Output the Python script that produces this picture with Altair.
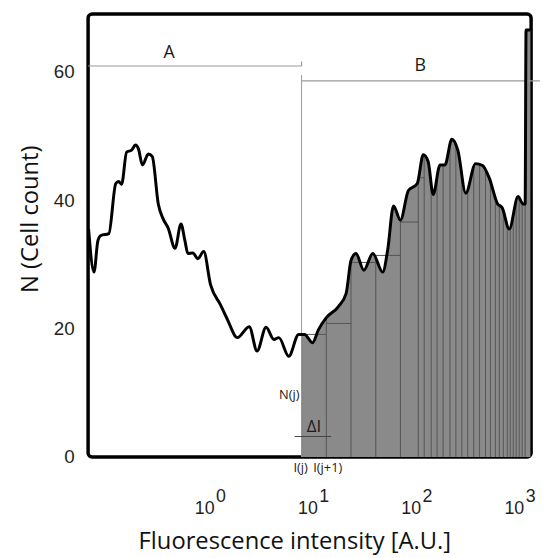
import altair as alt
import pandas as pd

# ---- data (x in log10 of fluorescence intensity) ----
log_intensity = [-1.12, -1.068, -1.030, -1.001, -0.924, -0.857, -0.829, -0.800, -0.752, -0.704,
                 -0.666, -0.637, -0.599, -0.541, -0.503, -0.445, -0.398, -0.350, -0.283, -0.225,
                 -0.187, -0.158, -0.110, -0.062, -0.005, 0.062, 0.158, 0.225, 0.321, 0.436,
                 0.512, 0.599, 0.675, 0.723, 0.819, 0.915, 0.943, 0.972, 1.049, 1.106,
                 1.183, 1.298, 1.375, 1.422, 1.470, 1.547, 1.633, 1.729, 1.777, 1.834,
                 1.901, 1.978, 2.064, 2.122, 2.170, 2.218, 2.285, 2.332, 2.399, 2.457,
                 2.534, 2.629, 2.696, 2.763, 2.840, 2.888, 2.955, 3.041, 3.089, 3.109,
                 3.118, 3.160]
cell_count = [35.5, 28.8, 33.7, 34.5, 34.8, 42.6, 42.9, 42.5, 47.5, 47.8,
              48.6, 48.0, 45.5, 47.2, 46.8, 39.4, 37.1, 35.7, 32.5, 36.3,
              33.7, 31.7, 31.8, 30.9, 32.0, 26.8, 23.7, 21.4, 18.6, 20.3,
              16.5, 20.2, 18.3, 18.6, 15.7, 19.1, 19.1, 19.1, 17.8, 19.8,
              21.7, 23.4, 25.5, 30.6, 31.7, 29.1, 31.7, 28.8, 32.2, 39.1,
              36.9, 41.5, 42.6, 47.1, 46.0, 40.9, 45.5, 45.5, 49.5, 47.8,
              41.1, 45.7, 45.4, 43.4, 39.5, 38.8, 35.5, 40.6, 39.4, 39.4,
              66.5, 66.5]

gate = 0.943  # boundary between region A and region B

bin_edges = [0.943, 1.183, 1.422, 1.662, 1.901, 2.074, 2.131, 2.199, 2.256, 2.314,
             2.381, 2.438, 2.496, 2.553, 2.611, 2.668, 2.725, 2.773, 2.821, 2.859,
             2.898, 2.936, 2.965, 2.994, 3.022, 3.051, 3.080, 3.109]
bin_tops = [19.1, 21.7, 30.6, 31.2, 36.9, 43.4, 47.0, 42.9, 43.5, 45.5,
            48.3, 48.5, 44.5, 42.0, 44.8, 45.7, 44.8, 42.9, 40.5, 39.2,
            38.3, 36.5, 36.0, 37.7, 39.5, 40.5, 39.7, 39.4]

step_start = [0.943, 1.183, 1.422, 1.662, 1.901, 2.074]
step_end = [1.183, 1.422, 1.662, 1.901, 2.074, 2.131]
step_level = [19.1, 20.8, 30.3, 31.4, 36.6, 43.5]

x_ticks = [0, 1, 2, 3]
x_exponents = ["0", "1", "2", "3"]
y_ticks = [0, 20, 40, 60]
x_domain = [-1.125, 3.167]
y_domain = [0, 69]

# ---- tables ----
curve = pd.DataFrame({"logI": log_intensity, "N": cell_count})
region_b = curve[curve["logI"] >= gate]
bins = pd.DataFrame({"logI": bin_edges, "top": bin_tops, "base": [0] * len(bin_edges)})
steps = pd.DataFrame({"logI": step_start, "end": step_end, "N": step_level})

xaxis = alt.Axis(values=x_ticks, labelExpr="'10'",
                 labelFont="Liberation Sans", labelFontSize=18, labelColor="#1f1f1f",
                 labelAlign="center", labelBaseline="top",
                 labelPadding=43, labelFlush=False, ticks=False, domain=False, grid=False,
                 title="Fluorescence intensity [A.U.]", titleFont="Open Sans",
                 titleFontSize=24, titleFontWeight="normal", titleColor="#111",
                 titleX=208.5, titleY=92, titleBaseline="alphabetic", titleAlign="center")
yaxis = alt.Axis(values=y_ticks, labelFont="Liberation Sans", labelFontSize=19,
                 labelColor="#1f1f1f", labelPadding=14, ticks=False, domain=False, grid=False,
                 title="N (Cell count)", titleFont="Open Sans", titleFontSize=24,
                 titleFontWeight="normal", titleColor="#111", titleX=-51, titleY=207,
                 titleAngle=270, titleBaseline="alphabetic", titleAlign="center")
xs = alt.Scale(domain=x_domain, nice=False, zero=False)
ys = alt.Scale(domain=y_domain, nice=False, zero=False)


def X(f):
    return alt.X(f, type="quantitative", scale=xs, axis=xaxis)


def Y(f):
    return alt.Y(f, type="quantitative", scale=ys, axis=yaxis)


fill = alt.Chart(region_b).mark_area(color="#8a8a8a", interpolate="monotone", opacity=1).encode(
    x=X("logI"), y=Y("N"))

bin_rules = alt.Chart(bins).mark_rule(color="#555555", strokeWidth=1).encode(
    x=X("logI"), y=Y("base"), y2="top")

step_rules = alt.Chart(steps).mark_rule(color="#555555", strokeWidth=1).encode(
    x=X("logI"), x2="end", y=Y("N"))

# brackets / gate annotation
gate_df = pd.DataFrame({"logI": [gate], "y0": [0], "y1": [59.5]})
gate_rule = alt.Chart(gate_df).mark_rule(color="#9a9a9a", strokeWidth=1).encode(
    x=X("logI"), y=Y("y0"), y2="y1")

a_df = pd.DataFrame({"logI": [x_domain[0]], "end": [gate], "N": [60.9]})
a_rule = alt.Chart(a_df).mark_rule(color="#9a9a9a", strokeWidth=1.2).encode(
    x=X("logI"), x2="end", y=Y("N"))
a_tick_df = pd.DataFrame({"logI": [gate], "y0": [60.9], "y1": [61.6]})
a_tick = alt.Chart(a_tick_df).mark_rule(color="#9a9a9a", strokeWidth=1.2).encode(
    x=X("logI"), y=Y("y0"), y2="y1")
b_df = pd.DataFrame({"logI": [gate], "end": [3.252], "N": [58.6]})
b_rule = alt.Chart(b_df).mark_rule(color="#9a9a9a", strokeWidth=1.2).encode(
    x=X("logI"), x2="end", y=Y("N"))

di_df = pd.DataFrame({"logI": [0.876], "end": [1.231], "N": [3.2]})
di_rule = alt.Chart(di_df).mark_rule(color="#444444", strokeWidth=1).encode(
    x=X("logI"), x2="end", y=Y("N"))

line = alt.Chart(curve).mark_line(color="black", strokeWidth=3, interpolate="monotone").encode(
    x=X("logI"), y=Y("N"))

big_labels = pd.DataFrame({"logI": [-0.340, 2.093], "N": [62.9, 60.9], "t": ["A", "B"]})
big_text = alt.Chart(big_labels).mark_text(font="Open Sans", fontSize=18, color="#1a1a1a",
                                           baseline="middle", align="center").encode(
    x=X("logI"), y=Y("N"), text="t:N")

dl_df = pd.DataFrame({"logI": [1.063], "N": [4.6], "t": ["ΔI"]})
dl_text = alt.Chart(dl_df).mark_text(font="Open Sans", fontSize=17, color="#1a1a1a",
                                     baseline="middle", align="center").encode(
    x=X("logI"), y=Y("N"), text="t:N")

nj_df = pd.DataFrame({"logI": [0.924], "N": [9.7], "t": ["N(j)"]})
nj_text = alt.Chart(nj_df).mark_text(font="Open Sans", fontSize=13, color="#1a1a1a",
                                     baseline="middle", align="right").encode(
    x=X("logI"), y=Y("N"), text="t:N")

ij_df = pd.DataFrame({"logI": [0.934, 1.197], "N": [-1.7, -1.7], "t": ["I(j)", "I(j+1)"]})
ij_text = alt.Chart(ij_df).mark_text(font="Open Sans", fontSize=13, color="#1a1a1a",
                                     baseline="middle", align="center").encode(
    x=X("logI"), y=Y("N"), text="t:N")

# exponents of the "10" tick labels (same size, raised)
exp_df = pd.DataFrame({"logI": x_ticks, "N": [-6.2] * len(x_ticks), "t": x_exponents})
exp_text = alt.Chart(exp_df).mark_text(font="Liberation Sans", fontSize=18, color="#1f1f1f",
                                       baseline="middle", align="center", dx=17).encode(
    x=X("logI"), y=Y("N"), text="t:N")

chart = alt.layer(
    fill, bin_rules, step_rules, gate_rule, a_rule, a_tick, b_rule, di_rule, line,
    big_text, dl_text, nj_text, ij_text, exp_text
).properties(
    width=448, height=448,
    padding={"left": 81, "top": 3, "right": 10, "bottom": 98},
    autosize=alt.AutoSizeParams(type="none"),
).configure_view(
    stroke="black", strokeWidth=3.5, cornerRadius=4
)

chart.save("out.html", embed_options={"renderer": "svg", "actions": False})
